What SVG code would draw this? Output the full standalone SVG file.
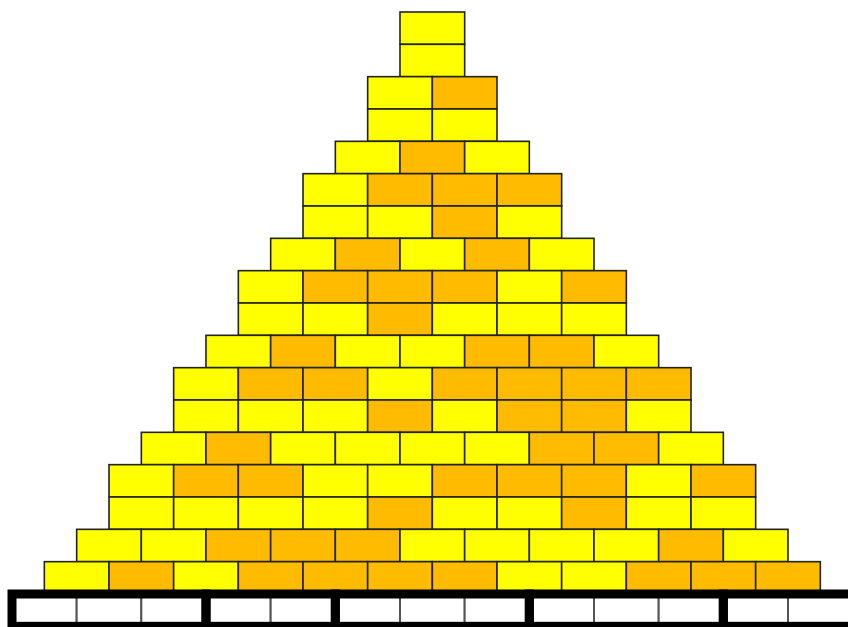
<svg xmlns="http://www.w3.org/2000/svg" width="848" height="627" viewBox="0 0 848 627">
<style>
.b{stroke:#222222;stroke-width:1.6}
.y{fill:#FFFF00}
.o{fill:#FFBB00}
.c{fill:#FFFFFF;stroke:#555555;stroke-width:2}
.g{fill:none;stroke:#000000;stroke-width:9}
</style>
<defs>
<rect id="br" width="64.67" height="32.33"/>
</defs>
<rect width="848" height="627" fill="#FFFFFF"/>
<g id="pyramid" class="b">
<g id="row1" transform="translate(0,12)"><use href="#br" x="400" class="y"/></g>
<g id="row2" transform="translate(0,44.33)"><use href="#br" x="400" class="y"/></g>
<g id="row3" transform="translate(0,76.67)"><use href="#br" x="367.67" class="y"/><use href="#br" x="432.33" class="o"/></g>
<g id="row4" transform="translate(0,109)"><use href="#br" x="367.67" class="y"/><use href="#br" x="432.33" class="y"/></g>
<g id="row5" transform="translate(0,141.33)"><use href="#br" x="335.33" class="y"/><use href="#br" x="400" class="o"/><use href="#br" x="464.67" class="y"/></g>
<g id="row6" transform="translate(0,173.67)"><use href="#br" x="303" class="y"/><use href="#br" x="367.67" class="o"/><use href="#br" x="432.33" class="o"/><use href="#br" x="497" class="o"/></g>
<g id="row7" transform="translate(0,206)"><use href="#br" x="303" class="y"/><use href="#br" x="367.67" class="y"/><use href="#br" x="432.33" class="o"/><use href="#br" x="497" class="y"/></g>
<g id="row8" transform="translate(0,238.33)"><use href="#br" x="270.67" class="y"/><use href="#br" x="335.33" class="o"/><use href="#br" x="400" class="y"/><use href="#br" x="464.67" class="o"/><use href="#br" x="529.33" class="y"/></g>
<g id="row9" transform="translate(0,270.67)"><use href="#br" x="238.33" class="y"/><use href="#br" x="303" class="o"/><use href="#br" x="367.67" class="o"/><use href="#br" x="432.33" class="o"/><use href="#br" x="497" class="y"/><use href="#br" x="561.67" class="o"/></g>
<g id="row10" transform="translate(0,303)"><use href="#br" x="238.33" class="y"/><use href="#br" x="303" class="y"/><use href="#br" x="367.67" class="o"/><use href="#br" x="432.33" class="y"/><use href="#br" x="497" class="y"/><use href="#br" x="561.67" class="y"/></g>
<g id="row11" transform="translate(0,335.33)"><use href="#br" x="206" class="y"/><use href="#br" x="270.67" class="o"/><use href="#br" x="335.33" class="y"/><use href="#br" x="400" class="y"/><use href="#br" x="464.67" class="o"/><use href="#br" x="529.33" class="o"/><use href="#br" x="594" class="y"/></g>
<g id="row12" transform="translate(0,367.67)"><use href="#br" x="173.67" class="y"/><use href="#br" x="238.33" class="o"/><use href="#br" x="303" class="o"/><use href="#br" x="367.67" class="y"/><use href="#br" x="432.33" class="o"/><use href="#br" x="497" class="o"/><use href="#br" x="561.67" class="o"/><use href="#br" x="626.33" class="o"/></g>
<g id="row13" transform="translate(0,400)"><use href="#br" x="173.67" class="y"/><use href="#br" x="238.33" class="y"/><use href="#br" x="303" class="y"/><use href="#br" x="367.67" class="o"/><use href="#br" x="432.33" class="y"/><use href="#br" x="497" class="o"/><use href="#br" x="561.67" class="o"/><use href="#br" x="626.33" class="y"/></g>
<g id="row14" transform="translate(0,432.33)"><use href="#br" x="141.33" class="y"/><use href="#br" x="206" class="o"/><use href="#br" x="270.67" class="y"/><use href="#br" x="335.33" class="y"/><use href="#br" x="400" class="y"/><use href="#br" x="464.67" class="y"/><use href="#br" x="529.33" class="o"/><use href="#br" x="594" class="o"/><use href="#br" x="658.67" class="y"/></g>
<g id="row15" transform="translate(0,464.67)"><use href="#br" x="109" class="y"/><use href="#br" x="173.67" class="o"/><use href="#br" x="238.33" class="o"/><use href="#br" x="303" class="y"/><use href="#br" x="367.67" class="y"/><use href="#br" x="432.33" class="o"/><use href="#br" x="497" class="o"/><use href="#br" x="561.67" class="o"/><use href="#br" x="626.33" class="y"/><use href="#br" x="691" class="o"/></g>
<g id="row16" transform="translate(0,497)"><use href="#br" x="109" class="y"/><use href="#br" x="173.67" class="y"/><use href="#br" x="238.33" class="y"/><use href="#br" x="303" class="y"/><use href="#br" x="367.67" class="o"/><use href="#br" x="432.33" class="y"/><use href="#br" x="497" class="y"/><use href="#br" x="561.67" class="o"/><use href="#br" x="626.33" class="y"/><use href="#br" x="691" class="y"/></g>
<g id="row17" transform="translate(0,529.33)"><use href="#br" x="76.67" class="y"/><use href="#br" x="141.33" class="y"/><use href="#br" x="206" class="o"/><use href="#br" x="270.67" class="o"/><use href="#br" x="335.33" class="o"/><use href="#br" x="400" class="y"/><use href="#br" x="464.67" class="y"/><use href="#br" x="529.33" class="y"/><use href="#br" x="594" class="y"/><use href="#br" x="658.67" class="o"/><use href="#br" x="723.33" class="y"/></g>
<g id="row18" transform="translate(0,561.67)"><use href="#br" x="44.33" class="y"/><use href="#br" x="109" class="o"/><use href="#br" x="173.67" class="y"/><use href="#br" x="238.33" class="o"/><use href="#br" x="303" class="o"/><use href="#br" x="367.67" class="o"/><use href="#br" x="432.33" class="o"/><use href="#br" x="497" class="y"/><use href="#br" x="561.67" class="y"/><use href="#br" x="626.33" class="o"/><use href="#br" x="691" class="o"/><use href="#br" x="755.67" class="o"/></g>
</g>
<g id="base">
<g id="cells" transform="translate(0,594)">
<use href="#br" x="12" class="c"/><use href="#br" x="76.67" class="c"/><use href="#br" x="141.33" class="c"/><use href="#br" x="206" class="c"/><use href="#br" x="270.67" class="c"/><use href="#br" x="335.33" class="c"/><use href="#br" x="400" class="c"/><use href="#br" x="464.67" class="c"/><use href="#br" x="529.33" class="c"/><use href="#br" x="594" class="c"/><use href="#br" x="658.67" class="c"/><use href="#br" x="723.33" class="c"/><use href="#br" x="788" class="c"/>
</g>
<g id="groups" class="g">
<rect x="12" y="594" width="194" height="32.33"/>
<rect x="206" y="594" width="129.33" height="32.33"/>
<rect x="335.33" y="594" width="194" height="32.33"/>
<rect x="529.33" y="594" width="194" height="32.33"/>
<rect x="723.33" y="594" width="129.33" height="32.33"/>
</g>
</g>
</svg>
